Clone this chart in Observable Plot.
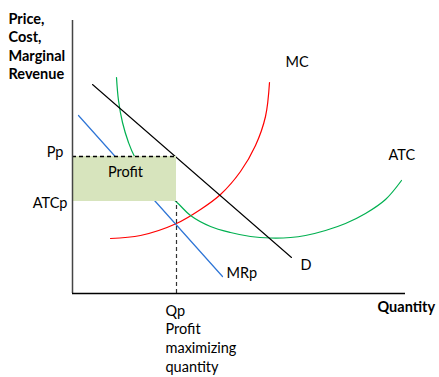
<!DOCTYPE html>
<html>
<head>
<meta charset="utf-8">
<script src="https://cdn.jsdelivr.net/npm/d3@7"></script>
<script src="https://cdn.jsdelivr.net/npm/@observablehq/plot@0.6"></script>
<style>
  html, body { margin: 0; padding: 0; background: #fff; }
  svg { display: block; }
</style>
</head>
<body>
<div id="chart"></div>
<script>
// Quantity / price units (origin at the axes' corner)
const demandQ = [20, 219];
const demandP = [209, 36];
const mrQ = [6, 150];
const mrP = [178, 17];
const mcQ = [38, 68, 104, 128, 148, 168, 183, 193, 197];
const mcP = [55, 58, 70, 84, 99, 122, 148, 177, 211];
const atcQ = [44, 46, 50, 56, 62, 80, 104, 118, 138, 158, 178, 198, 218, 233, 253, 273, 293, 313, 329];
const atcP = [216, 193, 171, 151, 137, 110, 91.5, 78, 67, 61, 57, 55.5, 56, 58, 63, 70, 80, 94, 113];
const Qp = 104;
const Pp = 137;
const ATCp = 92;
const yAxisTop = 273;
const xAxisEnd = 333;

const pts = (xs, ys) => xs.map((x, i) => ({x, y: ys[i]}));
const font = "Lato, 'Open Sans', sans-serif";
const fs = 14.5;

const chart = Plot.plot({
  width: 439,
  height: 377,
  margin: 0,
  x: {domain: [-72, 367], axis: null},
  y: {domain: [-84, 293], axis: null},
  style: {fontFamily: font, background: "#fff"},
  marks: [
    Plot.line(pts(mcQ, mcP), {x: "x", y: "y", stroke: "#ff0000", strokeWidth: 1.2, curve: "catmull-rom"}),
    Plot.line(pts(atcQ, atcP), {x: "x", y: "y", stroke: "#00b050", strokeWidth: 1.2, curve: "catmull-rom"}),
    Plot.line(pts(demandQ, demandP), {x: "x", y: "y", stroke: "#000", strokeWidth: 1.1}),
    Plot.line(pts(mrQ, mrP), {x: "x", y: "y", stroke: "#2e75d6", strokeWidth: 1.2}),
    // profit rectangle
    Plot.rect([{x1: 0, x2: Qp, y1: ATCp, y2: Pp}], {x1: "x1", x2: "x2", y1: "y1", y2: "y2", fill: "#d7e4bd"}),
    // dashed guides
    Plot.ruleY([Pp], {x1: 0, x2: Qp, stroke: "#000", strokeWidth: 1.3, strokeDasharray: "4,3"}),
    Plot.ruleX([Qp], {y1: 0, y2: ATCp, stroke: "#333", strokeWidth: 1.2, strokeDasharray: "4,3"}),
    // axes
    Plot.ruleX([0], {y1: 0, y2: yAxisTop, stroke: "#444", strokeWidth: 1.5}),
    Plot.ruleY([0], {x1: 0, x2: xAxisEnd, stroke: "#000", strokeWidth: 1.5}),
    // axis tick labels
    Plot.text(["Pp"], {x: -9, y: Pp + 4, text: d => d, textAnchor: "end", lineAnchor: "middle", fontSize: fs, fill: "#000"}),
    Plot.text(["ATCp"], {x: -5, y: ATCp - 2, text: d => d, textAnchor: "end", lineAnchor: "middle", fontSize: fs, fill: "#000"}),
    Plot.text(["Qp\nProfit\nmaximizing\nquantity"], {x: Qp - 11, y: -9, text: d => d, textAnchor: "start", lineAnchor: "top", lineHeight: 1.29, fontSize: fs, fill: "#000"}),
    // axis titles
    Plot.text(["Price,\nCost,\nMarginal\nRevenue"], {x: -64, y: 283, text: d => d, textAnchor: "start", lineAnchor: "top", lineHeight: 1.28, fontSize: fs, fontWeight: "bold", fill: "#000"}),
    Plot.text(["Quantity"], {x: 305, y: -14, text: d => d, textAnchor: "start", lineAnchor: "middle", fontSize: fs, fontWeight: "bold", fill: "#000"}),
    // curve labels
    Plot.text(["Profit"], {x: 53, y: 121, text: d => d, textAnchor: "middle", lineAnchor: "middle", fontSize: fs, fill: "#000"}),
    Plot.text(["MC"], {x: 213, y: 231, text: d => d, textAnchor: "start", lineAnchor: "middle", fontSize: fs, fill: "#000"}),
    Plot.text(["ATC"], {x: 316, y: 138, text: d => d, textAnchor: "start", lineAnchor: "middle", fontSize: fs, fill: "#000"}),
    Plot.text(["D"], {x: 228, y: 28, text: d => d, textAnchor: "start", lineAnchor: "middle", fontSize: fs, fill: "#000"}),
    Plot.text(["MRp"], {x: 154, y: 20, text: d => d, textAnchor: "start", lineAnchor: "middle", fontSize: fs, fill: "#000"})
  ]
});
document.getElementById("chart").appendChild(chart);
</script>
</body>
</html>
